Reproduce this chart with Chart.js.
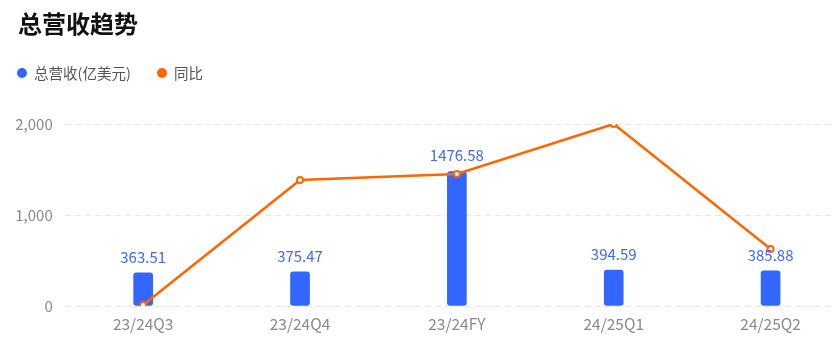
<!DOCTYPE html>
<html><head><meta charset="utf-8">
<script src="https://cdn.jsdelivr.net/npm/chart.js@4.4.1/dist/chart.umd.min.js"></script>
<style>
html,body{margin:0;padding:0;width:834px;height:361px;overflow:hidden;background:#fff;font-family:"Noto Sans CJK SC","Noto Sans",sans-serif;}
#c{position:absolute;left:0;top:0;}
#title{position:absolute;left:18px;top:5px;font-size:24px;font-weight:bold;color:#111;}
.lg{position:absolute;top:62px;font-size:14.5px;color:#555;display:flex;align-items:center;}
.dot{width:10px;height:10px;border-radius:50%;margin-right:7px;display:inline-block;}
</style></head>
<body>
<canvas id="c" width="855" height="361" style="width:855px;height:361px"></canvas>
<div id="title">总营收趋势</div>
<div class="lg" style="left:17px"><span class="dot" style="background:#3366FF"></span>总营收(亿美元)</div>
<div class="lg" style="left:157px"><span class="dot" style="background:#FF6600"></span>同比</div>
<script>
const categories = ["23/24Q3","23/24Q4","23/24FY","24/25Q1","24/25Q2"];
const revenue = [363.51, 375.47, 1476.58, 394.59, 385.88];
const yoy = [0.03, 3.81, 3.99, 5.5, 1.72];
const yTicks = [0, 1000, 2000];

const labelPlugin = {
  id:'barLabels',
  afterDatasetsDraw(chart){
    const ctx = chart.ctx;
    const meta = chart.getDatasetMeta(1);
    ctx.save();
    ctx.font = '15px "Noto Sans CJK SC", sans-serif';
    ctx.fillStyle = '#3D6BF5';
    ctx.textAlign = 'center';
    ctx.textBaseline = 'middle';
    meta.data.forEach((bar,i)=>{
      ctx.fillText(revenue[i].toFixed(2), bar.x, bar.y - 16);
    });
    ctx.restore();
  }
};

new Chart(document.getElementById('c'), {
  data:{
    labels: categories,
    datasets:[
      {type:'line', label:'同比', data:yoy, yAxisID:'y1', borderColor:'#FF6600', borderWidth:2.5,
       pointRadius:3, pointBackgroundColor:'#fff', pointBorderColor:'#FF6600', pointBorderWidth:2,
       tension:0, order:0},
      {type:'bar', label:'总营收(亿美元)', data:revenue, yAxisID:'y', backgroundColor:'#3366FF',
       barThickness:19, borderRadius:3, borderSkipped:false, order:1}
    ]
  },
  options:{
    responsive:false, animation:false, devicePixelRatio:1,
    layout:{padding:{top:124,left:0,right:0,bottom:0}},
    plugins:{legend:{display:false}, tooltip:{enabled:false}},
    scales:{
      x:{offset:true, grid:{display:false}, border:{display:false},
         ticks:{color:'#86898F', font:{size:15.5, family:'"Noto Sans CJK SC", sans-serif'}, padding:1, maxRotation:0},
         afterFit(s){ s.height = 55; }},
      y:{min:0, max:2000, afterBuildTicks(s){ s.ticks = yTicks.map(v=>({value:v})); },
         grid:{color:'#E6E6E6', drawTicks:false, lineWidth:1}, border:{display:false, dash:[6,4]},
         ticks:{color:'#86898F', font:{size:15, family:'"Noto Sans CJK SC", sans-serif'}, padding:12,
                callback:v=>v.toLocaleString('en-US')},
         afterFit(s){ s.width = 64.75; }},
      y1:{display:false, min:0, max:5.5}
    }
  },
  plugins:[labelPlugin]
});
</script>
</body></html>
